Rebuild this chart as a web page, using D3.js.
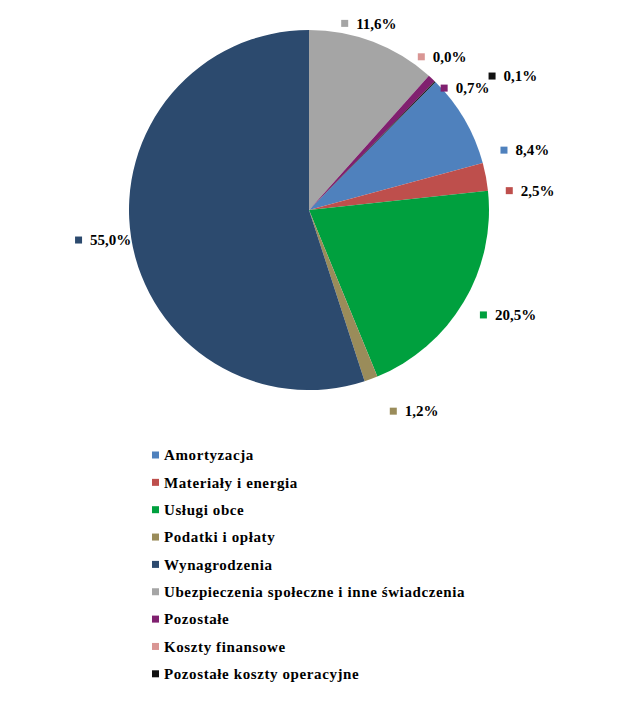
<!DOCTYPE html>
<html><head><meta charset="utf-8">
<script src="https://cdn.jsdelivr.net/npm/d3@7"></script>
<style>body{margin:0;background:#fff}svg{display:block}</style>
</head><body>
<svg id="c" width="641" height="728"></svg>
<script>
const categories = ["Amortyzacja","Materiały i energia","Usługi obce","Podatki i opłaty","Wynagrodzenia","Ubezpieczenia społeczne i inne świadczenia","Pozostałe","Koszty finansowe","Pozostałe koszty operacyjne"];
const values = [8.4, 2.5, 20.5, 1.2, 55.0, 11.6, 0.7, 0.0, 0.1];
const colors = ["#4F81BD","#BE4F4C","#00A03E","#9A8C5A","#2C4A6E","#A5A5A5","#80206F","#D99694","#111111"];
// label placement (polar: angle in degrees clockwise from top, radius in px from pie centre)
const labelAngle = [74.5, 85, 117.8, 152.4, 261.7, 17.8, 52, 41, 56.7];
const labelRadius = [224, 222, 225, 227, 208, 196, 198, 203, 244];

const svg = d3.select("#c");
const cx = 309, cy = 210, r = 180;
const firstSliceAngle = 44.64 * Math.PI/180;
const fmt = v => v.toFixed(1).replace(".", ",") + "%";
const font = "'Liberation Serif', 'Times New Roman', serif";

const data = categories.map((c,i)=>({cat:c, value:values[i], color:colors[i], i}));
const pie = d3.pie().value(d=>d.value).sort(null).startAngle(firstSliceAngle).endAngle(firstSliceAngle + 2*Math.PI);
const arc = d3.arc().innerRadius(0).outerRadius(r);
const g = svg.append("g").attr("transform", `translate(${cx},${cy})`);
g.selectAll("path").data(pie(data)).join("path")
  .attr("d", arc).attr("fill", d=>d.data.color);

// data labels
data.forEach((d,i)=>{
  const a = labelAngle[i]*Math.PI/180, R = labelRadius[i];
  const px = cx + R*Math.sin(a), py = cy - R*Math.cos(a);
  const lg = svg.append("g");
  lg.append("rect").attr("x",0).attr("y",-3.5).attr("width",7).attr("height",7).attr("fill",d.color);
  const t = lg.append("text").attr("x",15).attr("y",0).attr("dy","0.35em")
    .attr("font-family",font).attr("font-weight","bold").attr("font-size",15).attr("fill","#000")
    .text(fmt(d.value));
  const w = 15 + t.node().getComputedTextLength();
  lg.attr("transform", `translate(${px - w/2},${py})`);
});

// legend
const lx = 152, ly0 = 455, lstep = 27.35;
const leg = svg.append("g");
data.forEach((d,i)=>{
  const y = ly0 + i*lstep;
  leg.append("rect").attr("x",lx).attr("y",y-3.5).attr("width",7).attr("height",7).attr("fill",d.color);
  leg.append("text").attr("x",lx+12).attr("y",y).attr("dy","0.35em")
    .attr("font-family",font).attr("font-weight","bold").attr("font-size",15).attr("fill","#000")
    .attr("letter-spacing","0.6px")
    .text(d.cat);
});
</script>
</body></html>
